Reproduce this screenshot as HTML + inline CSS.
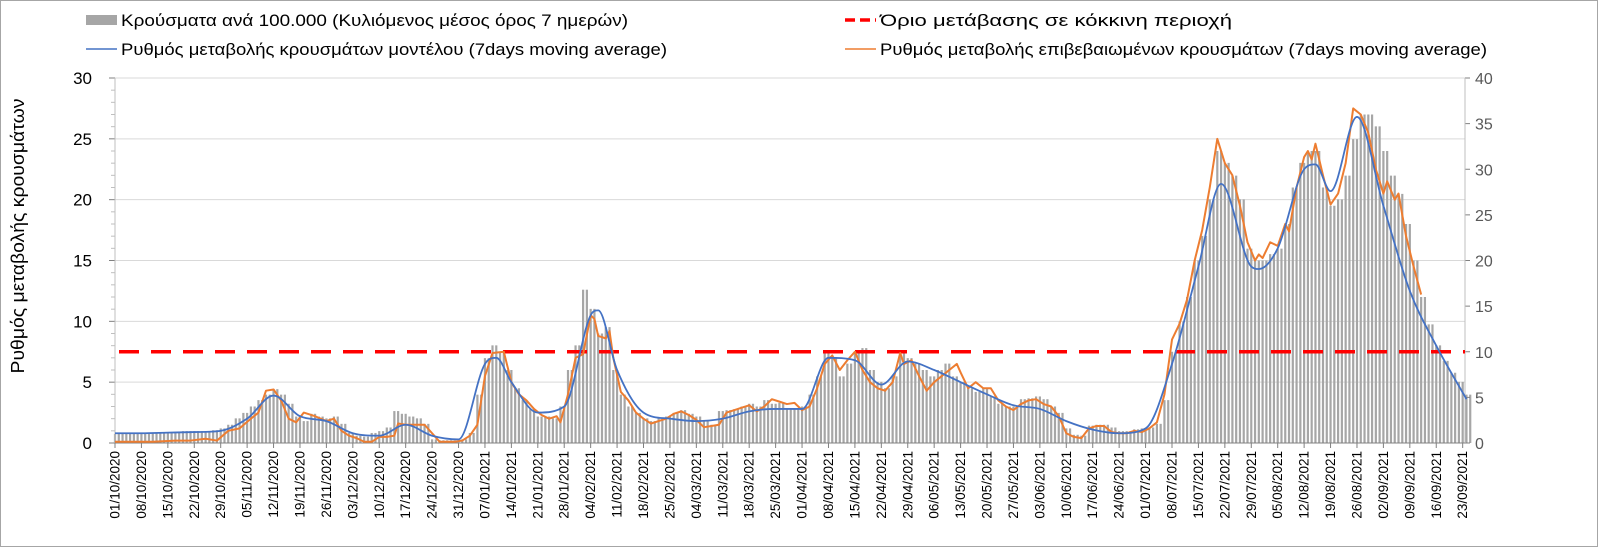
<!DOCTYPE html>
<html><head><meta charset="utf-8">
<style>
body{margin:0;background:#fff;}
svg{display:block;font-family:"Liberation Sans",Arial,sans-serif;}
</style></head>
<body>
<svg id="chart" width="1598" height="547" viewBox="0 0 1598 547">
<rect x="0.5" y="0.5" width="1597" height="546" fill="#fff" stroke="#a6a6a6"/>
<g id="legend">
 <g>
  <rect x="86" y="15" width="31" height="10" fill="#a6a6a6"/>
  <text x="121" y="26" font-size="17" textLength="507" lengthAdjust="spacingAndGlyphs" fill="#000">Κρούσματα ανά 100.000 (Κυλιόμενος μέσος όρος 7 ημερών)</text>
 </g>
 <g>
  <line x1="845" y1="20" x2="876" y2="20" stroke="#ff0000" stroke-width="3.5" stroke-dasharray="10,5"/>
  <text x="880" y="26" font-size="17" textLength="352" lengthAdjust="spacingAndGlyphs" fill="#000">Όριο μετάβασης σε κόκκινη περιοχή</text>
 </g>
 <g>
  <line x1="86" y1="49" x2="117" y2="49" stroke="#4472c4" stroke-width="1.5"/>
  <text x="121" y="55" font-size="17" textLength="546" lengthAdjust="spacingAndGlyphs" fill="#000">Ρυθμός μεταβολής κρουσμάτων μοντέλου (7days moving average)</text>
 </g>
 <g>
  <line x1="845" y1="49" x2="876" y2="49" stroke="#ed7d31" stroke-width="1.5"/>
  <text x="880" y="55" font-size="17" textLength="607" lengthAdjust="spacingAndGlyphs" fill="#000">Ρυθμός μεταβολής επιβεβαιωμένων κρουσμάτων (7days moving average)</text>
 </g>
</g>
<text x="24" y="236" font-size="18" text-anchor="middle" textLength="275" lengthAdjust="spacingAndGlyphs" transform="rotate(-90 24 236)">Ρυθμός μεταβολής κρουσμάτων</text>
<g id="grid"></g>
<g id="bars"></g>
<g id="axes"></g>
<g id="lines"></g>
</svg>
<script>
const leftTicks = [0,5,10,15,20,25,30];
const rightTicks = [0,5,10,15,20,25,30,35,40];
const startDate = [2020,10,1];
const threshold = 7.5;
const barValues = [1.0,1.0,1.0,1.1,1.1,1.1,1.2,1.2,1.2,1.3,1.3,1.3,1.3,1.4,
1.6,2.0,2.7,3.3,4.0,4.7,5.3,
5.9,5.3,4.3,2.9,2.4,3.2,2.9,2.7,2.9,2.1,1.1,
0.8,0.7,1.1,1.3,1.7,3.5,3.2,2.9,2.7,2.1,
0.4,0.3,0.3,0.3,0.4,1.1,
5.3,9.3,10.7,10,8,6,4.7,3.7,2.9,2.9,2.7,4,
8,10.7,16.8,14.7,12,12.7,8,5.3,4,3.3,
2.7,2.4,2.7,2.9,3.3,3.6,3.2,2.9,2.4,2.0,
3.5,3.6,3.7,4,4.3,4,4.7,4.3,4.4,3.7,3.7,4,5.3,7.3,
10,9.3,7.3,8.7,10,10.4,8,6.7,6,7.3,10,9.3,8.7,
8,7.3,8,8.7,7.3,6.7,6,5.6,6,5.1,4.3,4,
4,4.8,4.9,5.1,4.8,4,3.3,1.6,0.9,0.8,
1.9,2,2,1.7,1.3,1.3,1.5,1.6,1.7,2.1,4.7,
10,13.3,16,20,22.7,26.7,32,30.7,29.3,26.7,
21.3,20,20,20.7,21.3,24,28,30.7,32,32,
28,26,26.7,29.3,33.3,36,36,34.7,32,29.3,27.3,
24,20,16,13,10.7,9,7.7,6.7,5.3];
const blueDays = [0,7,14,21,28,35,42,49,56,63,70,77,84,91,98,101,105,112,119,126,128,133,140,147,154,161,168,175,182,189,196,203,210,217,224,231,238,245,252,259,266,273,280,287,293,301,303,308,315,318,322,329,336,343,350,358];
const blueVals = [0.8,0.8,0.85,0.9,1.0,2.0,3.9,2.2,1.8,0.8,0.6,1.5,0.6,0.3,6.5,7.0,5.0,2.5,3.0,10.5,10.9,6,2.5,2.0,1.8,2.0,2.6,2.8,2.8,7.0,6.8,4.8,6.7,6.0,5.0,4.0,3.1,2.8,1.8,1.1,0.8,1.2,6.5,14.5,21.3,14.5,14.3,16,22.5,22.9,20.7,26.8,19.5,12.5,8.0,3.6];
const orangeDays = [0,10,16,20,24,27,30,33,36,38,40,42,44,46,48,50,53,56,58,60,62,64,66,68,70,72,74,75,77,82,84,86,90,92,94,96,98,100,103,105,107,109,111,113,115,117,118,120,122,124,126,127,128,130,131,132,134,136,138,140,142,144,146,148,150,152,154,156,158,160,162,164,166,168,170,172,174,176,178,180,182,184,186,188,190,192,194,196,198,200,202,204,206,208,209,211,213,215,217,219,221,223,224,226,228,230,232,234,236,238,240,242,244,246,248,250,252,254,256,258,260,262,264,266,268,270,272,274,276,278,280,282,284,286,288,290,292,294,295,296,298,300,302,303,304,306,308,310,311,313,315,316,317,318,320,322,324,326,328,330,332,334,336,337,339,340,342,344,346];
const orangeVals = [0.1,0.1,0.2,0.2,0.35,0.2,1.0,1.2,2.0,2.5,4.3,4.4,3.5,2.0,1.7,2.5,2.2,1.8,2.0,1.0,0.6,0.4,0.1,0.1,0.5,0.5,0.6,1.6,1.5,1.5,0.8,0.1,0.1,0.2,0.6,1.5,5.5,7.4,7.5,5.0,4.0,3.5,2.8,2.3,2.0,2.2,1.7,4.0,7.0,7.3,10.5,10.2,8.8,8.6,9.2,7.0,4.2,3.5,2.5,2.0,1.6,1.8,2.0,2.4,2.6,2.3,1.9,1.3,1.4,1.5,2.5,2.7,2.9,3.1,2.6,3.0,3.6,3.4,3.2,3.3,2.7,3.0,4.5,6.5,7.2,6.0,6.8,7.5,6.0,5.0,4.5,4.3,5.0,7.4,6.5,6.8,5.5,4.3,5.0,5.5,6.0,6.5,5.8,4.5,5.0,4.5,4.5,3.5,3.0,2.7,3.2,3.5,3.6,3.2,3.0,2.2,0.8,0.5,0.4,1.2,1.4,1.4,0.9,0.8,0.8,1.0,0.9,1.2,1.7,4.0,8.5,9.8,11.8,15.0,17.5,21.0,25.0,23.0,22.5,22.0,19.5,16.5,15.0,15.5,15.2,16.5,16.2,18.0,17.4,21.0,23.5,24.0,23.3,24.6,22.0,19.6,20.5,23.0,27.5,27.0,25.5,22.5,20.5,21.5,20.0,20.5,17.0,14.5,12.2];

const NS='http://www.w3.org/2000/svg';
const X0=115, PX=3.775, Y0=443, YT=78, XR=1465;
const xs=d=>X0+PX*d;
const yl=v=>Y0-(Y0-YT)*v/30;
const yr=v=>Y0-(Y0-YT)*v/40;
function mk(tag,attrs,parent){const e=document.createElementNS(NS,tag);for(const k in attrs)e.setAttribute(k,attrs[k]);parent.appendChild(e);return e;}
const grid=document.getElementById('grid'),bars=document.getElementById('bars'),axes=document.getElementById('axes'),lines=document.getElementById('lines');
leftTicks.forEach(v=>{
 if(v>0){const g=mk('line',{x1:X0,x2:XR,y1:yl(v),y2:yl(v),stroke:'#d9d9d9','stroke-width':1},grid);
 
 }
 const t=mk('text',{x:92,y:yl(v)+6,'font-size':17,'text-anchor':'end',fill:'#000'},axes);t.textContent=v;
 
 
 mk('line',{x1:X0-6,x2:X0,y1:yl(v),y2:yl(v),stroke:'#808080'},axes);
});
for(let v=1;v<30;v++){if(v%5)mk('line',{x1:X0-4,x2:X0,y1:yl(v),y2:yl(v),stroke:'#bfbfbf'},axes);}
rightTicks.forEach(v=>{
 const t=mk('text',{x:1475,y:yr(v)+6,'font-size':16,fill:'#595959'},axes);t.textContent=v;
 
 
 mk('line',{x1:XR,x2:XR+5,y1:yr(v),y2:yr(v),stroke:'#808080'},axes);
});
barValues.forEach((v,i)=>{
 const d=i*2;
 const b1=mk('rect',{x:xs(d)-1.1,y:yr(v),width:2.2,height:Y0-yr(v),fill:'#a6a6a6'},bars);
 
 
 const b2=mk('rect',{x:xs(d+1)-1.1,y:yr(v),width:2.2,height:Y0-yr(v),fill:'#a6a6a6'},bars);
 
 
});
mk('line',{x1:X0,x2:X0,y1:YT,y2:Y0,stroke:'#bfbfbf'},axes);
mk('line',{x1:XR,x2:XR,y1:YT,y2:Y0,stroke:'#bfbfbf'},axes);
mk('line',{x1:X0,x2:XR,y1:Y0,y2:Y0,stroke:'#808080'},axes);
for(let d=0;d<=364;d+=7){
 const x=xs(d);if(x>XR+1)break;
 mk('line',{x1:x,x2:x,y1:Y0,y2:Y0+5,stroke:'#808080'},axes);
 const dt=new Date(Date.UTC(startDate[0],startDate[1]-1,startDate[2]+d));
 const s=String(dt.getUTCDate()).padStart(2,'0')+'/'+String(dt.getUTCMonth()+1).padStart(2,'0')+'/'+dt.getUTCFullYear();
 const t=mk('text',{x:x+4.5,y:451,'font-size':13.5,'text-anchor':'end',fill:'#000',transform:`rotate(-90 ${x+4.5} 451)`},axes);t.textContent=s;
 
 
}
const red=mk('line',{x1:X0+4,x2:XR,y1:yl(threshold),y2:yl(threshold),stroke:'#ff0000','stroke-width':3.5,'stroke-dasharray':'20,12'},lines);


// monotone cubic for blue
const bx=blueDays.map(xs), by=blueVals.map(yl), n=bx.length;
const dl=[],m=[];
for(let i=0;i<n-1;i++)dl.push((by[i+1]-by[i])/(bx[i+1]-bx[i]));
m[0]=dl[0];m[n-1]=dl[n-2];
for(let i=1;i<n-1;i++){m[i]=(dl[i-1]*dl[i]<=0)?0:(dl[i-1]+dl[i])/2;}
for(let i=0;i<n-1;i++){if(dl[i]===0){m[i]=0;m[i+1]=0;continue;}const a=m[i]/dl[i],b=m[i+1]/dl[i],s=a*a+b*b;if(s>9){const t=3/Math.sqrt(s);m[i]=t*a*dl[i];m[i+1]=t*b*dl[i];}}
let p='M'+bx[0]+','+by[0];
for(let i=0;i<n-1;i++){const h=(bx[i+1]-bx[i])/3;p+=` C${bx[i]+h},${by[i]+m[i]*h} ${bx[i+1]-h},${by[i+1]-m[i+1]*h} ${bx[i+1]},${by[i+1]}`;}
const orange=mk('polyline',{points:orangeDays.map((d,i)=>xs(d)+','+yl(orangeVals[i])).join(' '),fill:'none',stroke:'#ed7d31','stroke-width':2,'stroke-linejoin':'round'},lines);


const blue=mk('path',{d:p,fill:'none',stroke:'#4472c4','stroke-width':1.8},lines);


</script>
</body></html>
